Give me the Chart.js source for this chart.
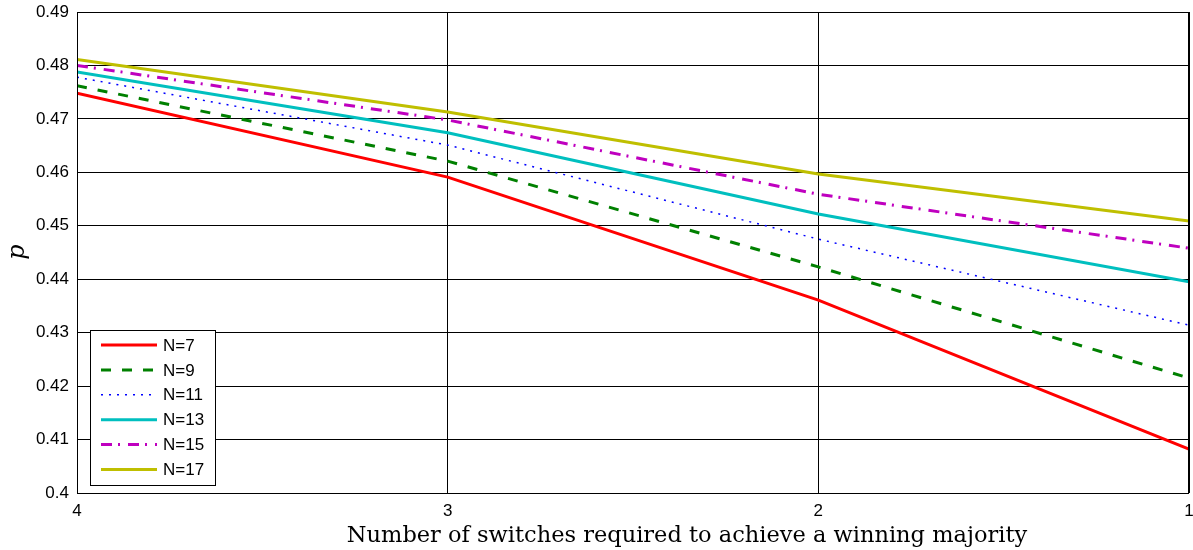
<!DOCTYPE html>
<html>
<head>
<meta charset="utf-8">
<script src="https://cdn.jsdelivr.net/npm/chart.js@4/dist/chart.umd.min.js"></script>
<style>
  html, body { margin: 0; padding: 0; background: #fff; }
  #wrap { width: 1193px; height: 550px; position: relative; }
</style>
</head>
<body>
<div id="wrap"><canvas id="pChart"></canvas></div>
<script>
// switches needed (x axis runs 4 -> 1)
const switches = [4, 3, 2, 1];
const yTicks = [0.40, 0.41, 0.42, 0.43, 0.44, 0.45, 0.46, 0.47, 0.48, 0.49];

const seriesNames = ['N=7', 'N=9', 'N=11', 'N=13', 'N=15', 'N=17'];
const pN7  = [0.4748, 0.4591, 0.4361, 0.4082];
const pN9  = [0.4762, 0.4621, 0.4423, 0.4215];
const pN11 = [0.4778, 0.4651, 0.4475, 0.4314];
const pN13 = [0.4788, 0.4674, 0.4522, 0.4395];
const pN15 = [0.4800, 0.4698, 0.4559, 0.4458];
const pN17 = [0.4811, 0.4713, 0.4597, 0.4509];

const seriesValues = [pN7, pN9, pN11, pN13, pN15, pN17];
const seriesColors = ['#ff0000', '#008000', '#0000ff', '#00bfbf', '#bf00bf', '#bfbf00'];
const seriesDash = [[], [10, 11], [2, 6], [], [11, 6, 2, 8], []];
const seriesWidth = [3, 3, 1.5, 3, 3, 3];

const tickFont = { family: 'Liberation Sans, Arial, sans-serif', size: 17 };

const datasets = seriesNames.map((name, i) => ({
    label: name,
    data: switches.map((s, j) => ({ x: s, y: seriesValues[i][j] })),
    borderColor: seriesColors[i],
    backgroundColor: seriesColors[i],
    borderWidth: seriesWidth[i],
    borderDash: seriesDash[i],
    pointRadius: 0,
    tension: 0,
    fill: false
}));

// legend box inside the plot, bottom-left, MATLAB style
const boxLegend = {
    id: 'boxLegend',
    afterDraw(chart) {
        const ctx = chart.ctx;
        const x0 = 90, y0 = 330, w = 125, h = 155;
        ctx.save();
        ctx.fillStyle = '#fff';
        ctx.fillRect(x0, y0, w, h);
        ctx.strokeStyle = '#000';
        ctx.lineWidth = 1;
        ctx.strokeRect(x0 + 0.5, y0 + 0.5, w, h);
        ctx.font = '17px Liberation Sans, Arial, sans-serif';
        ctx.textBaseline = 'middle';
        chart.data.datasets.forEach((ds, i) => {
            const yy = 345 + i * 24.9;
            ctx.beginPath();
            ctx.strokeStyle = ds.borderColor;
            ctx.lineWidth = ds.borderWidth;
            ctx.setLineDash(ds.borderDash);
            ctx.moveTo(101, yy);
            ctx.lineTo(157, yy);
            ctx.stroke();
            ctx.setLineDash([]);
            ctx.fillStyle = '#000';
            ctx.fillText(ds.label, 163, yy + 1);
        });
        ctx.restore();
    }
};

// axis titles in serif, like the LaTeX labels of the original
const axisTitles = {
    id: 'axisTitles',
    afterDraw(chart) {
        const ctx = chart.ctx;
        ctx.save();
        ctx.fillStyle = '#000';
        ctx.textAlign = 'center';
        ctx.textBaseline = 'middle';
        ctx.font = '22.5px DejaVu Serif, Liberation Serif, serif';
        ctx.fillText('Number of switches required to achieve a winning majority', 687, 536);
        ctx.translate(18, 252);
        ctx.rotate(-Math.PI / 2);
        ctx.font = 'italic 24px DejaVu Serif, serif';
        ctx.fillText('p', 0, 0);
        ctx.restore();
    }
};

// black frame around the plot area
const frame = {
    id: 'frame',
    afterDatasetsDraw(chart) {
        const a = chart.chartArea;
        const ctx = chart.ctx;
        ctx.save();
        ctx.strokeStyle = '#000';
        ctx.lineWidth = 1;
        ctx.strokeRect(a.left + 0.5, a.top + 0.5, a.right - a.left - 1, a.bottom - a.top);
        ctx.restore();
    }
};

new Chart(document.getElementById('pChart'), {
    type: 'line',
    data: { datasets: datasets },
    plugins: [frame, boxLegend, axisTitles],
    options: {
        responsive: true,
        maintainAspectRatio: false,
        animation: false,
        layout: { padding: { top: 12, right: 4, left: 0, bottom: 0 } },
        plugins: {
            legend: { display: false },
            tooltip: { enabled: false }
        },
        scales: {
            x: {
                type: 'linear',
                reverse: true,
                min: 1,
                max: 4,
                afterBuildTicks(scale) {
                    scale.ticks = switches.map(v => ({ value: v }));
                },
                afterFit(scale) {
                    scale.height = 57;
                    scale.paddingLeft = 0;
                    scale.paddingRight = 0;
                },
                grid: { color: '#000', lineWidth: 1, drawTicks: false },
                border: { display: false },
                ticks: {
                    color: '#000',
                    font: tickFont,
                    padding: 8,
                    maxRotation: 0,
                    callback: v => String(v)
                }
            },
            y: {
                min: 0.40,
                max: 0.49,
                afterBuildTicks(scale) {
                    scale.ticks = yTicks.map(v => ({ value: v }));
                },
                afterFit(scale) {
                    scale.width = 77;
                    scale.paddingTop = 0;
                    scale.paddingBottom = 0;
                },
                grid: { color: '#000', lineWidth: 1, drawTicks: false },
                border: { display: false },
                ticks: {
                    color: '#000',
                    font: tickFont,
                    padding: 8,
                    callback: v => String(+v.toFixed(2))
                }
            }
        }
    }
});
</script>
</body>
</html>
